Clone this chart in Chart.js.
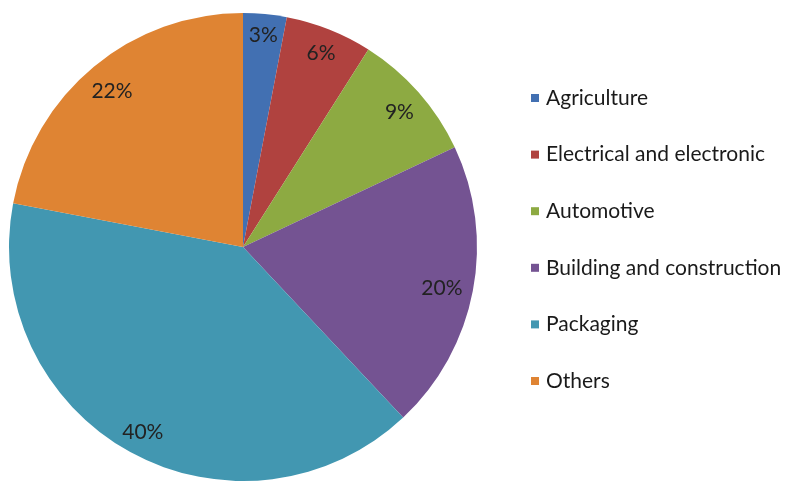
<!DOCTYPE html>
<html>
<head>
<meta charset="utf-8">
<script src="https://cdn.jsdelivr.net/npm/chart.js@4/dist/chart.umd.min.js"></script>
<style>
  html, body { margin: 0; padding: 0; background: #ffffff; }
  #wrap { width: 785px; height: 488px; position: relative; }
</style>
</head>
<body>
<div id="wrap"><canvas id="c" width="785" height="488"></canvas></div>
<script>
// Shares of use by sector (percent)
const sectors = ['Agriculture', 'Electrical and electronic', 'Automotive',
                 'Building and construction', 'Packaging', 'Others'];
const shares = [3, 6, 9, 20, 40, 22];
const sliceColors = ['#4270B2', '#B0423F', '#8DAA42', '#745392', '#4297B1', '#DF8433'];

const FONT = 'Lato, "Open Sans", sans-serif';
const FONT_SIZE = 21;

// Percentage labels kept inside each slice, a fixed gap in from the rim
const sliceLabels = {
  id: 'sliceLabels',
  afterDatasetsDraw(chart) {
    const ctx = chart.ctx;
    const meta = chart.getDatasetMeta(0);
    ctx.save();
    ctx.font = FONT_SIZE + 'px ' + FONT;
    ctx.fillStyle = '#222222';
    ctx.textAlign = 'center';
    ctx.textBaseline = 'middle';
    meta.data.forEach((arc, i) => {
      const p = arc.getProps(['x', 'y', 'startAngle', 'endAngle', 'outerRadius'], true);
      const mid = (p.startAngle + p.endAngle) / 2;
      const txt = shares[i] + '%';
      const halfW = ctx.measureText(txt).width / 2;
      const halfH = 7;
      const c = Math.cos(mid), s = Math.sin(mid);
      const extent = Math.abs(c) * halfW + Math.abs(s) * halfH;
      const r = p.outerRadius - 10 - extent;
      ctx.fillText(txt, p.x + c * r, p.y + s * r + 3);
    });
    ctx.restore();
  }
};

// Legend column to the right of the pie
const sideLegend = {
  id: 'sideLegend',
  afterDraw(chart) {
    const ctx = chart.ctx;
    const x0 = 531, y0 = 98, step = 56.6, box = 8;
    ctx.save();
    ctx.font = FONT_SIZE + 'px ' + FONT;
    ctx.textBaseline = 'middle';
    ctx.textAlign = 'left';
    chart.data.labels.forEach((lab, i) => {
      const y = y0 + i * step;
      ctx.fillStyle = chart.data.datasets[0].backgroundColor[i];
      ctx.fillRect(x0, y - box / 2, box, box);
      ctx.fillStyle = '#1a1a1a';
      ctx.fillText(lab, x0 + 15, y);
    });
    ctx.restore();
  }
};

new Chart(document.getElementById('c'), {
  type: 'pie',
  data: {
    labels: sectors,
    datasets: [{
      data: shares,
      backgroundColor: sliceColors,
      borderWidth: 0
    }]
  },
  options: {
    responsive: false,
    animation: false,
    layout: { padding: { left: 9, top: 13, bottom: 7, right: 308 } },
    plugins: {
      legend: { display: false },
      tooltip: { enabled: false }
    }
  },
  plugins: [sliceLabels, sideLegend]
});
</script>
</body>
</html>
